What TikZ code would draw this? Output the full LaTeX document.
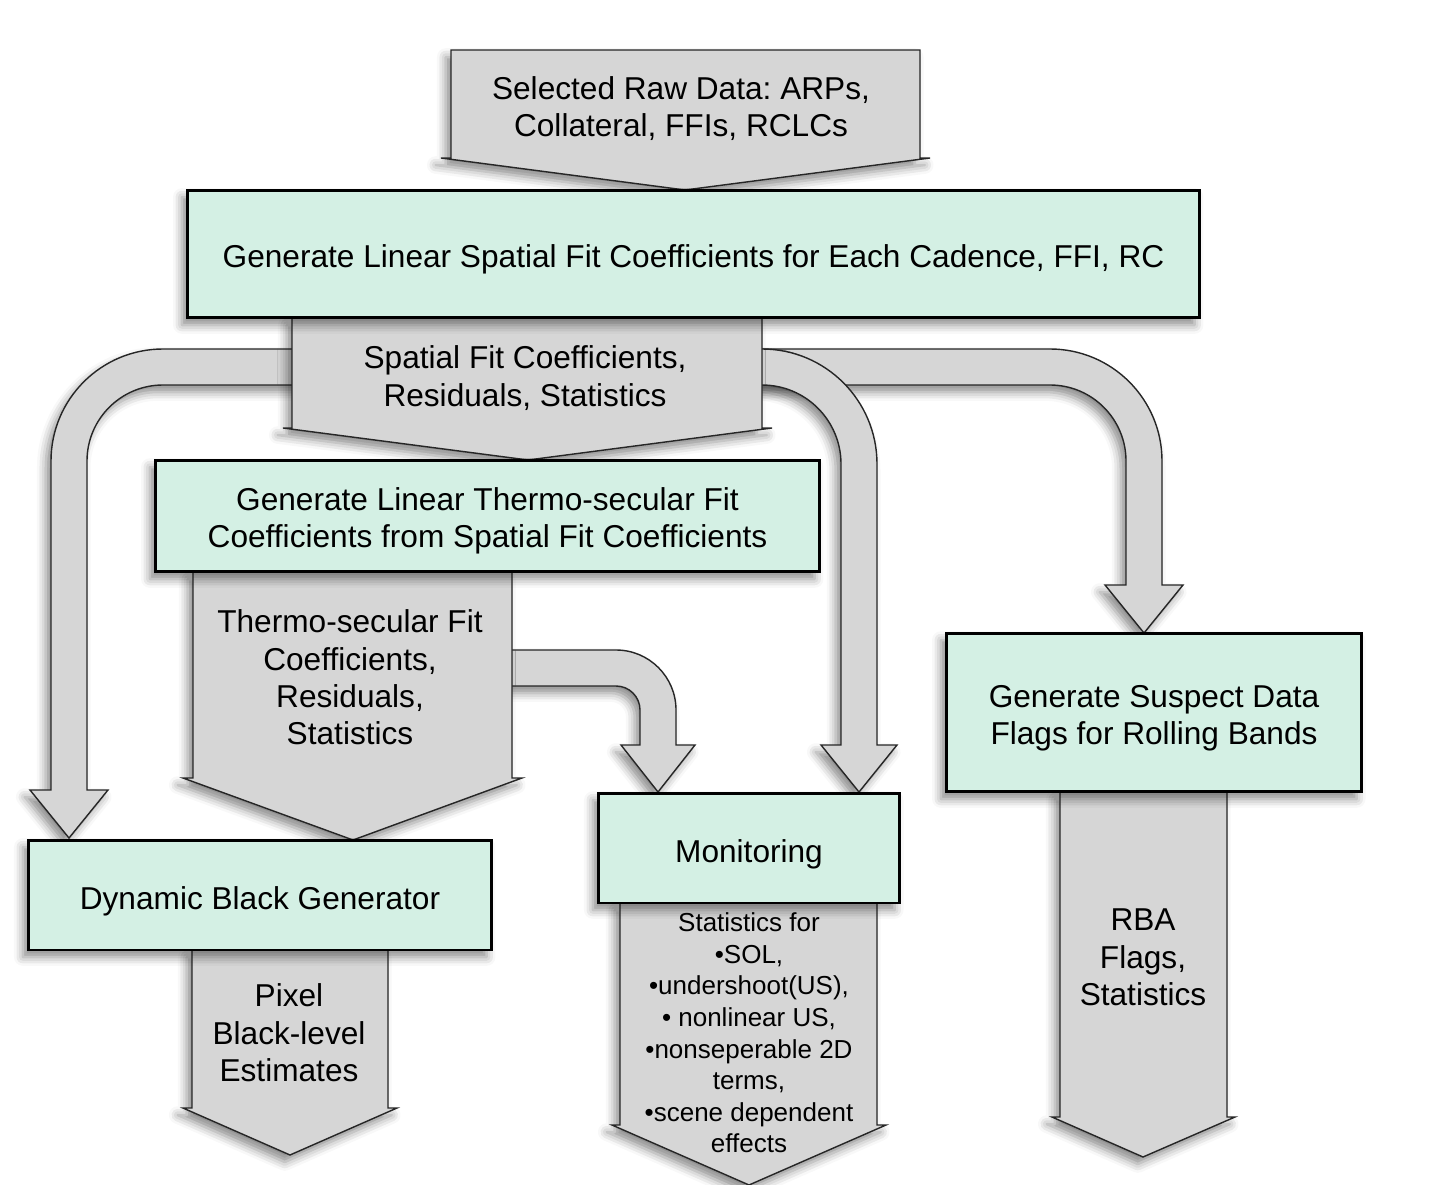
\documentclass[tikz,border=0pt]{standalone}
\usepackage{fontspec}
\setmainfont{Liberation Sans}
\usetikzlibrary{shadows.blur}
\definecolor{boxgreen}{RGB}{212,240,228}
\definecolor{flowgray}{RGB}{214,214,214}
\frenchspacing

\begin{document}
\begin{tikzpicture}
  [x=0.02cm,y=0.02cm]
      \tikzstyle{soft_shadow} = [blur shadow={shadow xshift=-3pt, shadow yshift=-4pt, shadow blur radius=5pt, shadow opacity=45}]
      \tikzstyle{box_style} = [draw=black, line width=1.7pt, fill=boxgreen, inner sep=0pt, align=center, font=\fontsize{18}{21.3}\selectfont, text depth=0pt, text height=0.56cm, soft_shadow]
      \tikzstyle{flow_style} = [draw=black!85, line width=0.8pt, fill=flowgray, soft_shadow]
      \tikzstyle{text_style} = [align=center, inner sep=0pt, font=\fontsize{18}{21.3}\selectfont]
  \useasboundingbox (0,0) rectangle (1435,-1185);
  % curved bands
  \draw[flow_style] (740,-349) -- (1050,-349) arc[start angle=90, end angle=0, radius=112] -- (1162,-585) -- (1183,-585) -- (1144,-633) -- (1105,-585) -- (1126,-585) -- (1126,-461) arc[start angle=0, end angle=90, radius=76] -- (740,-385) -- cycle;
  \draw[flow_style] (740,-349) -- (762,-349) arc[start angle=90, end angle=0, radius=115] -- (877,-745) -- (897,-745) -- (859,-792) -- (821,-745) -- (841,-745) -- (841,-464) arc[start angle=0, end angle=90, radius=79] -- (740,-385) -- cycle;
  \draw[flow_style] (310,-349) -- (163,-349) arc[start angle=90, end angle=180, radius=112] -- (51,-790) -- (30,-790) -- (69,-838) -- (108,-790) -- (87,-790) -- (87,-461) arc[start angle=180, end angle=90, radius=76] -- (310,-385) -- cycle;
  \draw[flow_style] (500,-650) -- (616,-650) arc[start angle=90, end angle=0, radius=60] -- (676,-745) -- (695,-745) -- (658,-792) -- (621,-745) -- (640,-745) -- (640,-710) arc[start angle=0, end angle=90, radius=24] -- (500,-686) -- cycle;
  % straight arrows
  \draw[flow_style] (451,-50) -- (920,-50) -- (920,-158) -- (930,-158) -- (685,-190) -- (441,-158) -- (451,-158) -- cycle;
  \draw[flow_style] (292,-318) -- (762,-318) -- (762,-428) -- (772,-428) -- (528,-460) -- (283,-428) -- (292,-428) -- cycle;
  \draw[flow_style] (193,-572) -- (512,-572) -- (512,-778) -- (522,-778) -- (353,-840) -- (183,-778) -- (193,-778) -- cycle;
  \draw[flow_style] (192,-950) -- (388,-950) -- (388,-1108) -- (397,-1108) -- (290,-1155) -- (183,-1108) -- (192,-1108) -- cycle;
  \draw[flow_style] (620,-903) -- (877,-903) -- (877,-1125) -- (886,-1125) -- (749,-1185) -- (612,-1125) -- (620,-1125) -- cycle;
  \draw[flow_style] (1060,-792) -- (1227,-792) -- (1227,-1117) -- (1235,-1117) -- (1143,-1157) -- (1052,-1117) -- (1060,-1117) -- cycle;
  % boxes
  \node[box_style, minimum width=20.26cm, minimum height=2.56cm] (spatial) at (693.5,-254) {Generate Linear Spatial Fit Coefficients for Each Cadence, FFI, RC};
  \node[box_style, text height=1.28cm, minimum width=13.3cm, minimum height=2.24cm] (thermo) at (487.5,-516) {Generate Linear Thermo-secular Fit\\Coefficients from Spatial Fit Coefficients};
  \node[box_style, minimum width=9.28cm, minimum height=2.2cm] (dbgen) at (260,-895) {Dynamic Black Generator};
  \node[box_style, minimum width=6.04cm, minimum height=2.2cm] (monit) at (749,-848) {Monitoring};
  \node[box_style, text height=1.28cm, minimum width=8.32cm, minimum height=3.18cm] (rolling) at (1154,-712.5) {Generate Suspect Data\\Flags for Rolling Bands};
  % labels on the arrows
  \node[text_style] (rawdata) at (681,-108.5) {Selected Raw Data: ARPs,\\Collateral, FFIs, RCLCs};
  \node[text_style] (spatialout) at (525,-378) {Spatial Fit Coefficients,\\ Residuals, Statistics};
  \node[text_style] (thermoout) at (350,-677.5) {Thermo-secular Fit\\Coefficients,\\Residuals,\\ Statistics};
  \node[text_style] (pixelout) at (289,-1033) {Pixel\\Black-level\\ Estimates};
  \node[text_style, font=\fontsize{14.8}{18}\selectfont] (monitout) at (749,-1033) {Statistics for\\•SOL,\\•undershoot(US),\\• nonlinear US,\\•nonseperable 2D\\terms,\\•scene dependent\\effects};
  \node[text_style] (rbaout) at (1143,-957.5) {RBA\\Flags,\\Statistics};
\end{tikzpicture}
\end{document}
